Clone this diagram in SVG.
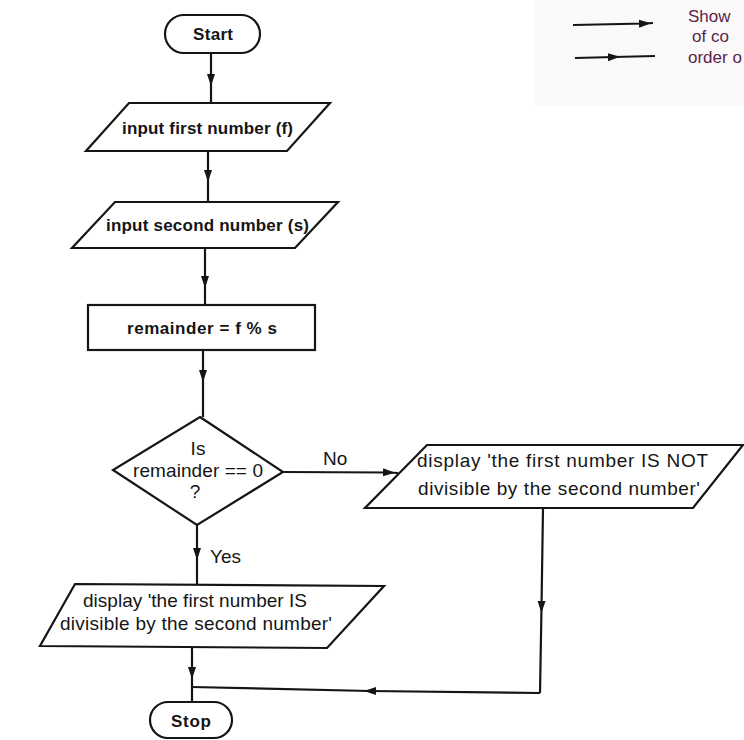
<svg xmlns="http://www.w3.org/2000/svg" width="744" height="740" viewBox="0 0 744 740">
<defs>
<marker id="ah" markerUnits="userSpaceOnUse" markerWidth="12" markerHeight="10" refX="6" refY="4" orient="auto" viewBox="0 0 12 8">
<path d="M0,0 L12,4 L0,8 z" fill="#151515"/>
</marker>
</defs>
<style>
.shape{fill:#ffffff;stroke:#151515;stroke-width:2.2}
.conn{fill:none;stroke:#151515;stroke-width:2.2;marker-mid:url(#ah)}
text{font-family:"Liberation Sans",Arial,sans-serif;fill:#151515;font-size:19px}
.b{font-weight:bold;font-size:17px}
.c{text-anchor:middle}
.leg{fill:#5a1f4b;font-size:17px}
</style>
<rect x="535" y="0" width="209" height="106" fill="#fbf9fa"/>
<g id="legend">
<path class="conn" d="M573,25 L645,23.5 L653,23"/>
<path class="conn" d="M575,58 L614,57 L655,56"/>
<text class="leg" x="688" y="22">Show</text>
<text class="leg" x="692" y="42">of co</text>
<text class="leg" x="688" y="63">order o</text>
</g>
<g id="connectors">
<path class="conn" d="M211,53 L211,80 L211,103"/>
<path class="conn" d="M208,151 L208,176 L208,202"/>
<path class="conn" d="M205,248 L205,282 L205,305"/>
<path class="conn" d="M203,350 L203,376 L203,417"/>
<path class="conn" d="M283,472 L389,472.5 L398,473"/>
<path class="conn" d="M197,525 L197,554 L197,585"/>
<path class="conn" d="M192,647 L192,673 L192,702"/>
<path class="conn" d="M543,508 L541.5,607 L540,693"/>
<path class="conn" d="M540,693 L370,691 L192,687"/>
</g>
<g id="start">
<rect class="shape" x="165" y="15" width="95" height="38" rx="19"/>
<text class="b c" x="213" y="40" textLength="40">Start</text>
</g>
<g id="input-first">
<polygon class="shape" points="129,103 330,103 287,151 86,151"/>
<text class="b c" x="207.5" y="134" textLength="171">input first number (f)</text>
</g>
<g id="input-second">
<polygon class="shape" points="115,202 338,202 295,248 72,248"/>
<text class="b c" x="207.5" y="231" textLength="203">input second number (s)</text>
</g>
<g id="remainder">
<rect class="shape" x="88" y="305" width="227" height="45"/>
<text class="b c" x="202" y="334" textLength="150">remainder = f % s</text>
</g>
<g id="decision">
<polygon class="shape" points="200,417 283,472 197,525 113,470"/>
<text class="c" x="198" y="455">Is</text>
<text class="c" x="198" y="477" textLength="130">remainder == 0</text>
<text class="c" x="195" y="498">?</text>
</g>
<g id="labels">
<text x="323" y="465">No</text>
<text x="210" y="563">Yes</text>
</g>
<g id="display-not">
<polygon class="shape" points="427,445 743,445 693,508 365,508"/>
<text x="417" y="467" textLength="291">display 'the first number IS NOT</text>
<text x="418" y="495" textLength="282">divisible by the second number'</text>
</g>
<g id="display-is">
<polygon class="shape" points="75,584 384,586 327,648 40,646"/>
<text x="83" y="607" textLength="224">display 'the first number IS</text>
<text x="60" y="630" textLength="272">divisible by the second number'</text>
</g>
<g id="stop">
<rect class="shape" x="150" y="702" width="82" height="36" rx="18"/>
<text class="b c" x="191" y="727" textLength="40">Stop</text>
</g>
</svg>
